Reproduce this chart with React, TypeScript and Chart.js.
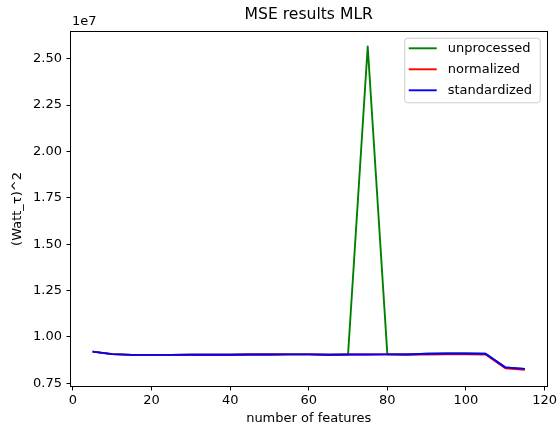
import React, { useEffect, useRef } from 'react';
import { Chart, registerables } from 'chart.js';

Chart.register(...registerables);

const features = [5, 10, 15, 20, 25, 30, 35, 40, 45, 50, 55, 60, 65, 70, 75, 80, 85, 90, 95, 100, 105, 110, 115];
const unprocessed = [9210000, 9070000, 9030000, 9030000, 9030000, 9040000, 9040000, 9040000, 9050000, 9050000, 9060000, 9060000, 9040000, 9050000, 25660000, 9060000, 9050000, 9090000, 9110000, 9110000, 9090000, 8360000, 8280000];
const normalized = [9210000, 9070000, 9030000, 9030000, 9030000, 9040000, 9040000, 9040000, 9050000, 9050000, 9060000, 9060000, 9040000, 9050000, 9050000, 9060000, 9050000, 9050000, 9060000, 9060000, 9050000, 8310000, 8230000];
const standardized = [9210000, 9070000, 9030000, 9030000, 9030000, 9040000, 9040000, 9040000, 9050000, 9050000, 9060000, 9060000, 9040000, 9050000, 9050000, 9060000, 9050000, 9090000, 9110000, 9110000, 9090000, 8360000, 8280000];
const seriesNames = ['unprocessed', 'normalized', 'standardized'];
const seriesColors = ['#008000', '#ff0000', '#0000ff'];
const yTicks = [0.75, 1.0, 1.25, 1.5, 1.75, 2.0, 2.25, 2.5];
const xTicks = [0, 20, 40, 60, 80, 100, 120];
const titleText = 'MSE results MLR';
const xLabel = 'number of features';
const yLabel = '(Watt_\u03c4)^2';
const offsetText = '1e7';

const FONT = '"DejaVu Sans", sans-serif';
const W = 559;
const H = 431;

const decorPlugin = {
  id: 'decor',
  afterDraw(chart: any) {
    const ctx = chart.ctx as CanvasRenderingContext2D;
    const a = chart.chartArea;
    ctx.save();
    // spines
    ctx.strokeStyle = '#000';
    ctx.lineWidth = 1;
    ctx.strokeRect(Math.round(a.left) - 0.5, Math.round(a.top) - 0.5, Math.round(a.right - a.left) + 1, Math.round(a.bottom - a.top) + 1);
    // title
    ctx.fillStyle = '#000';
    ctx.font = `15.6px ${FONT}`;
    ctx.textAlign = 'center';
    ctx.textBaseline = 'middle';
    ctx.fillText(titleText, (a.left + a.right) / 2, 15);
    // offset text
    ctx.font = `13px ${FONT}`;
    ctx.textAlign = 'left';
    ctx.fillText(offsetText, a.left + 1, 21.5);
    // x label
    ctx.textAlign = 'center';
    ctx.fillText(xLabel, (a.left + a.right) / 2, 419);
    // y label
    ctx.save();
    ctx.translate(18, (a.top + a.bottom) / 2);
    ctx.rotate(-Math.PI / 2);
    ctx.fillText(yLabel, 0, 0);
    ctx.restore();
    // legend
    const bw = 135.5;
    const bh = 64.5;
    const bx = a.right - 6.3 - bw;
    const by = a.top + 6.3;
    ctx.beginPath();
    const r = 3;
    ctx.moveTo(bx + r, by);
    ctx.lineTo(bx + bw - r, by);
    ctx.quadraticCurveTo(bx + bw, by, bx + bw, by + r);
    ctx.lineTo(bx + bw, by + bh - r);
    ctx.quadraticCurveTo(bx + bw, by + bh, bx + bw - r, by + bh);
    ctx.lineTo(bx + r, by + bh);
    ctx.quadraticCurveTo(bx, by + bh, bx, by + bh - r);
    ctx.lineTo(bx, by + r);
    ctx.quadraticCurveTo(bx, by, bx + r, by);
    ctx.closePath();
    ctx.fillStyle = 'rgba(255,255,255,0.8)';
    ctx.fill();
    ctx.strokeStyle = '#cccccc';
    ctx.lineWidth = 1;
    ctx.stroke();
    ctx.textAlign = 'left';
    ctx.textBaseline = 'middle';
    ctx.font = `13px ${FONT}`;
    for (let i = 0; i < seriesNames.length; i++) {
      const yy = by + 10 + i * 21;
      ctx.strokeStyle = seriesColors[i];
      ctx.lineWidth = 1.9;
      ctx.beginPath();
      ctx.moveTo(bx + 4, yy);
      ctx.lineTo(bx + 32, yy);
      ctx.stroke();
      ctx.fillStyle = '#000';
      ctx.fillText(seriesNames[i], bx + 43, yy);
    }
    ctx.restore();
  },
};

export default function App() {
  const ref = useRef<HTMLCanvasElement | null>(null);
  useEffect(() => {
    if (!ref.current) return;
    const seriesData = [unprocessed, normalized, standardized];
    const chart = new Chart(ref.current, {
      type: 'line',
      data: {
        datasets: seriesNames.map((name, i) => ({
          label: name,
          data: features.map((x, j) => ({ x, y: seriesData[i][j] })),
          borderColor: seriesColors[i],
          backgroundColor: seriesColors[i],
          borderWidth: 1.9,
          borderJoinStyle: 'round' as const,
          borderCapStyle: 'butt' as const,
          pointRadius: 0,
          tension: 0,
          fill: false,
          order: 3 - i,
        })),
      },
      options: {
        animation: false,
        responsive: false,
        devicePixelRatio: 1,
        layout: { padding: { left: 0, right: 10, top: 32, bottom: 0 } },
        plugins: {
          legend: { display: false },
          title: { display: false },
          tooltip: { enabled: false },
        },
        scales: {
          x: {
            type: 'linear',
            min: -0.5,
            max: 120.5,
            afterBuildTicks: (s: any) => {
              s.ticks = xTicks.map((v) => ({ value: v }));
            },
            afterFit: (s: any) => {
              s.height = 45;
            },
            border: { display: false },
            grid: { drawOnChartArea: false, drawTicks: true, tickLength: 4.5, color: '#000', lineWidth: 1 },
            ticks: { color: '#000', font: { family: FONT, size: 13 }, padding: 2, maxRotation: 0, autoSkip: false },
          },
          y: {
            type: 'linear',
            min: 7354000,
            max: 26440000,
            afterBuildTicks: (s: any) => {
              s.ticks = yTicks.map((v) => ({ value: v * 1e7 }));
            },
            afterFit: (s: any) => {
              s.width = 71;
            },
            border: { display: false },
            grid: { drawOnChartArea: false, drawTicks: true, tickLength: 4.5, color: '#000', lineWidth: 1 },
            ticks: {
              color: '#000',
              font: { family: FONT, size: 13 },
              padding: 4.5,
              autoSkip: false,
              callback: (v: any) => (Number(v) / 1e7).toFixed(2),
            },
          },
        },
      },
      plugins: [decorPlugin],
    });
    return () => chart.destroy();
  }, []);
  return (
    <div style={{ position: 'fixed', left: 0, top: 0, width: W, height: H, background: '#fff' }}>
      <canvas ref={ref} width={W} height={H} style={{ display: 'block', width: W, height: H }} />
    </div>
  );
}
